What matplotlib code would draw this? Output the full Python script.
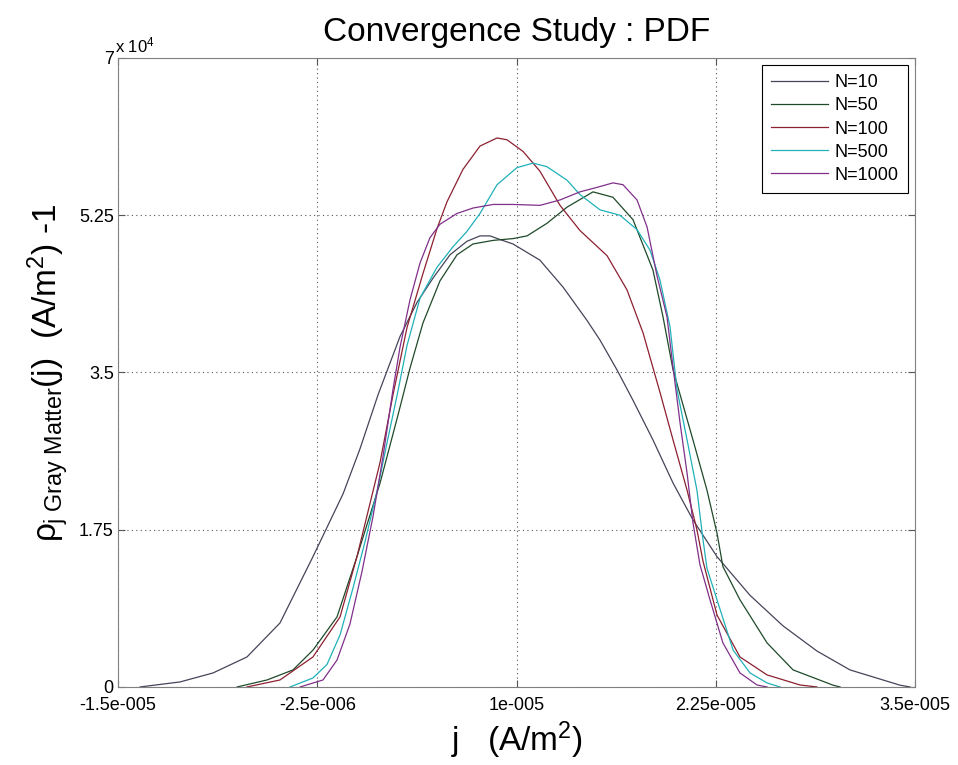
import matplotlib
matplotlib.use("Agg")
import matplotlib.pyplot as plt
import numpy as np

plt.rcParams['font.family'] = ['Liberation Sans', 'DejaVu Sans']
plt.rcParams['mathtext.fontset'] = 'custom'
plt.rcParams['mathtext.rm'] = 'Liberation Sans'
plt.rcParams['mathtext.it'] = 'Liberation Sans'

# current density j in units of 1e-6 A/m^2, pdf in units of 1e4
x_n10 = [-13.62, -13.18, -11.11, -9.04, -6.91, -4.84, -2.77, -0.88, 0.18, 1.31, 2.69, 3.76,
         4.76, 5.83, 6.89, 7.71, 8.34, 8.96, 9.78, 11.47, 12.92, 14.42, 15.24, 16.30, 17.31,
         18.56, 19.82, 21.07, 22.58, 24.65, 26.72, 28.85, 30.92, 34.06, 34.69]
y_n10 = [0.0, 0.01, 0.056, 0.156, 0.334, 0.712, 1.45, 2.15, 2.65, 3.25, 3.90, 4.28,
         4.55, 4.81, 4.96, 5.02, 5.02, 4.98, 4.93, 4.75, 4.45, 4.08, 3.86, 3.53, 3.19,
         2.75, 2.27, 1.86, 1.45, 1.02, 0.68, 0.40, 0.19, 0.02, 0.0]

x_n50 = [-7.53, -5.65, -4.02, -2.77, -1.26, -0.01, 1.44, 2.60, 3.32, 4.13, 5.20, 6.27, 7.27,
         8.53, 9.78, 10.66, 11.91, 13.17, 14.80, 16.05, 17.31, 18.56, 19.19, 19.82, 21.07,
         21.95, 22.58, 22.95, 24.02, 25.72, 27.35, 29.86, 30.30]
y_n50 = [0.0, 0.078, 0.19, 0.41, 0.78, 1.45, 2.27, 3.05, 3.55, 4.05, 4.52, 4.81, 4.93,
         4.97, 4.99, 5.02, 5.16, 5.34, 5.51, 5.45, 5.20, 4.64, 4.12, 3.53, 2.75,
         2.19, 1.71, 1.34, 0.97, 0.49, 0.19, 0.02, 0.0]

x_n100 = [-6.91, -4.84, -2.77, -1.07, -0.01, 1.44, 2.25, 3.13, 4.13, 5.01, 5.64, 6.64, 7.71,
          8.78, 9.40, 10.41, 11.47, 12.73, 13.98, 15.68, 16.93, 17.94, 19.00, 19.82, 20.70,
          21.32, 21.70, 22.58, 24.02, 25.72, 27.79, 28.85]
y_n100 = [0.0, 0.078, 0.334, 0.78, 1.45, 2.50, 3.25, 4.00, 4.60, 5.10, 5.40, 5.76, 6.02,
          6.11, 6.09, 5.96, 5.74, 5.36, 5.08, 4.80, 4.42, 3.94, 3.28, 2.75, 2.19,
          1.75, 1.40, 0.80, 0.334, 0.134, 0.022, 0.0]

x_n500 = [-4.21, -2.77, -1.89, -1.07, -0.26, 0.50, 1.25, 1.88, 2.57, 3.13, 3.95, 5.01, 6.02,
          6.89, 7.71, 8.78, 10.03, 11.04, 11.91, 13.17, 13.98, 15.24, 16.49, 17.56, 18.38,
          19.00, 19.63, 20.07, 20.70, 21.32, 21.70, 21.95, 22.58, 23.59, 24.65, 25.72, 26.53]
y_n500 = [0.0, 0.10, 0.25, 0.58, 1.10, 1.62, 2.18, 2.72, 3.30, 3.80, 4.33, 4.67, 4.90,
          5.07, 5.27, 5.59, 5.78, 5.83, 5.79, 5.64, 5.48, 5.31, 5.25, 5.09, 4.86,
          4.53, 4.01, 3.31, 2.75, 2.19, 1.64, 1.32, 0.97, 0.41, 0.156, 0.045, 0.0]

x_n1000 = [-3.58, -2.14, -1.26, -0.45, 0.30, 1.00, 1.62, 2.25, 2.69, 3.32, 3.95, 4.57, 5.20,
           6.27, 7.27, 8.53, 9.78, 11.47, 12.73, 13.98, 15.05, 16.05, 16.68, 17.56, 18.19,
           18.81, 19.44, 19.82, 20.26, 20.70, 21.07, 21.51, 22.14, 22.95, 24.02, 25.09, 25.72]
y_n1000 = [0.0, 0.078, 0.30, 0.70, 1.28, 1.90, 2.56, 3.31, 3.78, 4.31, 4.72, 5.00, 5.15,
           5.27, 5.33, 5.37, 5.37, 5.36, 5.42, 5.51, 5.56, 5.61, 5.59, 5.42, 5.12,
           4.58, 4.12, 3.56, 2.94, 2.38, 1.83, 1.36, 0.97, 0.49, 0.156, 0.022, 0.0]

labels = ['N=10', 'N=50', 'N=100', 'N=500', 'N=1000']
colors = ['#45455a', '#1f4a2a', '#8c2030', '#20b0b8', '#80308a']

x_ticks = [-1.5e-5, -2.5e-6, 1e-5, 2.25e-5, 3.5e-5]
x_tick_labels = ['-1.5e-005', '-2.5e-006', '1e-005', '2.25e-005', '3.5e-005']
y_ticks = [0, 1.75e4, 3.5e4, 5.25e4, 7e4]
y_tick_labels = ['0', '1.75', '3.5', '5.25', '7']

fig = plt.figure(figsize=(9.58, 7.65), dpi=100)
ax = fig.add_axes([0.1232, 0.102, 0.8319, 0.8222])

series = [(x_n10, y_n10), (x_n50, y_n50), (x_n100, y_n100), (x_n500, y_n500), (x_n1000, y_n1000)]
for (xs, ys), lab, c in zip(series, labels, colors):
    ax.plot(np.array(xs) * 1e-6, np.array(ys) * 1e4, color=c, lw=0.9, label=lab)

ax.set_xlim(-1.5e-5, 3.5e-5)
ax.set_ylim(0, 7e4)
ax.set_xticks(x_ticks)
ax.set_xticklabels(x_tick_labels)
ax.set_yticks(y_ticks)
ax.set_yticklabels(y_tick_labels)
ax.tick_params(direction='in', top=True, right=True, length=5, labelsize=13, color='#555555')
ax.tick_params(axis='x', pad=7)
ax.tick_params(axis='y', pad=3)
ax.grid(True, linestyle=(0, (1, 3)), color='#555555', lw=0.8)
for s in ax.spines.values():
    s.set_color('#808080')

ax.text(-0.004, 1.004, r'x 10$^4$', transform=ax.transAxes, fontsize=12, va='bottom', ha='left')
ax.set_title('Convergence Study : PDF', fontsize=24, pad=12)
ax.set_xlabel(r'j   (A/m$^2$)', fontsize=24, labelpad=4)
ax.set_ylabel(r'$\rho_{\mathrm{j\ Gray\ Matter}}$(j)  (A/m$^2$) -1', fontsize=24, labelpad=6)

leg = ax.legend(loc='upper right', fontsize=13, handlelength=3.2, handletextpad=0.35,
                fancybox=False, framealpha=1, borderaxespad=0.4, labelspacing=0.34,
                borderpad=0.5)
leg.get_frame().set_edgecolor('black')
leg.get_frame().set_linewidth(0.8)

fig.savefig('out.png', dpi=100)
